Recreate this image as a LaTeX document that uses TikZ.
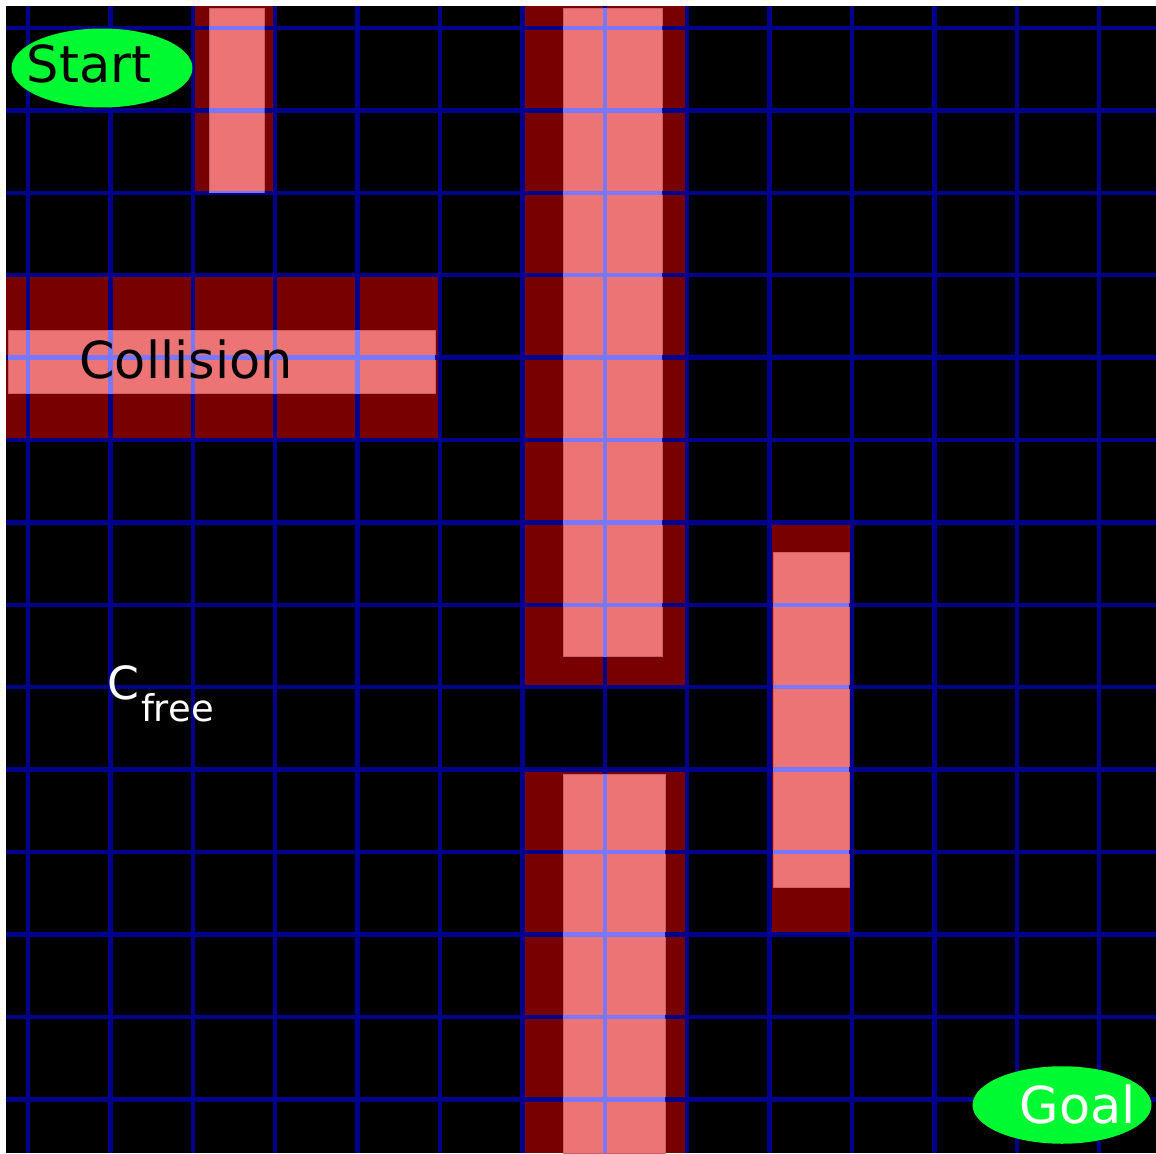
\documentclass[tikz,border=0pt]{standalone}
\usepackage{fontspec}
\setmainfont{DejaVu Sans}
\usetikzlibrary{shapes.geometric}
\definecolor{cellred}{RGB}{120,0,0}
\definecolor{obstpink}{RGB}{236,116,116}
\definecolor{gridblue}{RGB}{0,0,140}
\definecolor{gridlight}{RGB}{120,120,255}
\definecolor{zonegreen}{RGB}{0,250,50}
\newcommand\drawgrid[1]{%
  \foreach \k in {0,...,13} {
    \pgfmathsetmacro\p{28+82.4*\k}
    \draw[gridline,#1] (\p,6) -- (\p,1153);
    \draw[gridline,#1] (6,\p) -- (1156,\p);
  }}
\begin{document}
\begin{tikzpicture}[
  x=0.02cm,y=-0.02cm,
  cell/.style={fill=cellred},
  obstacle/.style={fill=obstpink,draw=obstpink!85!black,line width=0.4pt},
  gridline/.style={draw=gridblue,line width=2.6pt},
  zone/.style={ellipse,fill=zonegreen,inner sep=0pt},
  tag/.style={anchor=base,inner sep=0pt,font=\fontsize{29}{34}\selectfont}
]
\useasboundingbox (0,0) rectangle (1156,1153);
\fill[black] (6,6) rectangle (1156,1153);
\foreach \xa/\ya/\xb/\yb in {192.8/6/275.2/192.8, 6/275.2/440/440, 522.4/6/687.2/687.2,
    522.4/769.6/687.2/1153, 769.6/522.4/852/934.4}
  \fill[cell] (\xa,\ya) rectangle (\xb,\yb);
\foreach \xa/\ya/\xb/\yb in {209/8/264.5/192.5, 8/330/435/393, 563/8/662/656,
    563/774/665/1153, 773/552/849/887}
  \filldraw[obstacle] (\xa,\ya) rectangle (\xb,\yb);
\drawgrid{}
\foreach \xa/\ya/\xb/\yb in {209/8/264.5/192.5, 8/330/435/393, 563/8/662/656,
    563/774/665/1153, 773/552/849/887} {
  \begin{scope}
    \clip (\xa,\ya) rectangle (\xb,\yb);
    \drawgrid{draw=gridlight}
  \end{scope}
}
\node[zone,minimum width=3.62cm,minimum height=1.58cm] (start) at (102,68) {};
\node[tag] (startlbl) at (89,82) {Start};
\node[zone,minimum width=3.58cm,minimum height=1.55cm] (goal) at (1062,1105) {};
\node[tag,text=white] (goallbl) at (1078,1123) {Goal};
\node[tag] (collision) at (186,378) {Collision};
\node[tag,anchor=base west,text=white,font=\fontsize{26}{30}\selectfont] (cfree) at (107,699)
  {C\kern1pt\raisebox{-13pt}{\fontsize{21}{24}\selectfont free}};
\end{tikzpicture}
\end{document}
